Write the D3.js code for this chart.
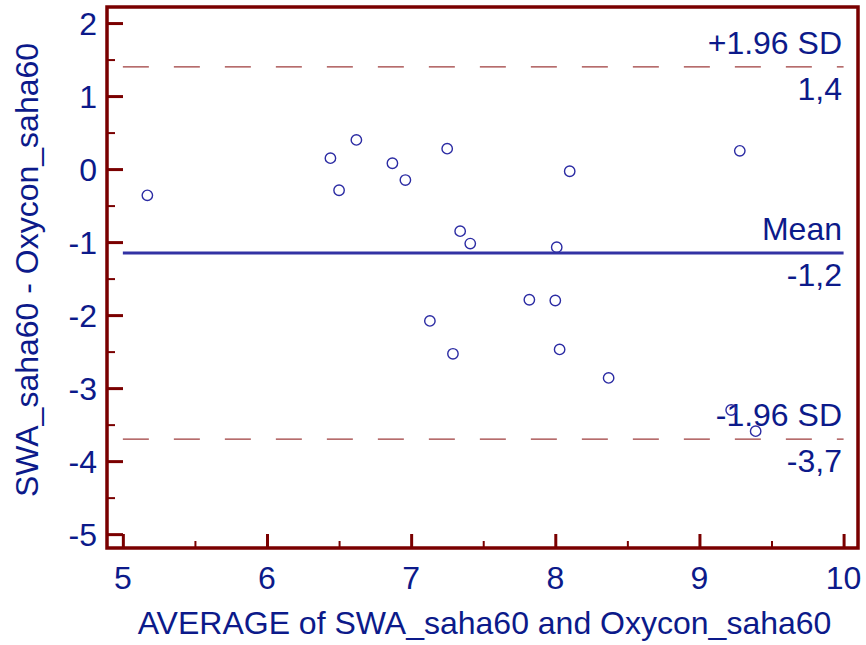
<!DOCTYPE html>
<html>
<head>
<meta charset="utf-8">
<script src="https://cdn.jsdelivr.net/npm/d3@7"></script>
<style>
  body { margin: 0; background: #fff; }
  text { font-family: "Liberation Sans", Arial, sans-serif; }
</style>
</head>
<body>
<div id="chart"></div>
<script>
(function blandAltman(){

  // data
  var avgValues  = [5.17, 6.44, 6.50, 6.62, 6.87, 6.96, 7.25, 7.34, 7.41, 7.13, 7.29, 7.82, 8.00, 8.01, 8.10, 8.03, 8.37, 9.28, 9.22, 9.39];
  var diffValues = [-0.36, 0.15, -0.29, 0.40, 0.08, -0.15, 0.28, -0.85, -1.02, -2.08, -2.53, -1.79, -1.80, -1.07, -0.03, -2.47, -2.86, 0.25, -3.30, -3.59];
  var refValues  = [1.40, -1.15, -3.70];            // +1.96 SD, mean, -1.96 SD
  var refNames   = ['+1.96 SD', 'Mean', '-1.96 SD'];
  var refLabels  = ['1,4', '-1,2', '-3,7'];
  var xTicks = [5, 6, 7, 8, 9, 10];
  var yTicks = [2, 1, 0, -1, -2, -3, -4, -5];

  var axisColor = '#7a0000',
      textColor = '#0c1a8a',
      markColor = '#2b2ba3';

  var W = 866, H = 645, fs = 32;
  var left = 107, right = 858, top = 7, bottom = 548;

  var x = d3.scaleLinear().domain([4.89, 10.1]).range([left, right]);
  var y = d3.scaleLinear().domain([-5.19, 2.22]).range([bottom, top]);

  var svg = d3.select('#chart').append('svg')
      .attr('width', W)
      .attr('height', H);

  // minor ticks at the half units
  var xMinor = d3.range(5.5, 10, 1);
  var yMinor = d3.range(-4.5, 2, 1);

  // axes with ticks pointing inward
  var yAxis = d3.axisRight(y).tickValues(yTicks).tickSize(16).tickFormat('');
  var yAxisMinor = d3.axisRight(y).tickValues(yMinor).tickSize(8).tickFormat('');
  var xAxis = d3.axisTop(x).tickValues(xTicks).tickSize(14).tickFormat('');
  var xAxisMinor = d3.axisTop(x).tickValues(xMinor).tickSize(7).tickFormat('');

  function drawAxis(axis, pos, width){
    var g = svg.append('g').attr('transform', pos).call(axis);
    g.selectAll('line').attr('stroke', axisColor).attr('stroke-width', width);
    g.select('.domain').remove();
  }
  drawAxis(yAxis, 'translate(' + left + ',0)', 3);
  drawAxis(yAxisMinor, 'translate(' + left + ',0)', 2);
  drawAxis(xAxis, 'translate(0,' + bottom + ')', 3);
  drawAxis(xAxisMinor, 'translate(0,' + bottom + ')', 2);

  // frame
  svg.append('path')
      .attr('d', 'M' + left + ',' + top + 'H' + right + 'V' + bottom + 'H' + left + 'Z')
      .attr('fill', 'none')
      .attr('stroke', axisColor)
      .attr('stroke-width', 3.5);

  // tick labels
  svg.selectAll('.ylab')
      .data(yTicks)
      .enter()
      .append('text')
      .attr('x', 97)
      .attr('y', function(d){ return y(d) + 11.5; })
      .attr('text-anchor', 'end')
      .attr('font-size', fs)
      .attr('fill', textColor)
      .text(function(d){ return d; });

  svg.selectAll('.xlab')
      .data(xTicks)
      .enter()
      .append('text')
      .attr('x', function(d){ return x(d); })
      .attr('y', 589)
      .attr('text-anchor', 'middle')
      .attr('font-size', fs)
      .attr('fill', textColor)
      .text(function(d){ return d; });

  // axis titles
  svg.append('text')
      .attr('x', (left + right) / 2 + 2)
      .attr('y', 634)
      .attr('text-anchor', 'middle')
      .attr('font-size', fs)
      .attr('fill', textColor)
      .text('AVERAGE of SWA_saha60 and Oxycon_saha60');

  svg.append('text')
      .attr('transform', 'translate(38,270) rotate(-90)')
      .attr('text-anchor', 'middle')
      .attr('font-size', fs)
      .attr('fill', textColor)
      .text('SWA_saha60 - Oxycon_saha60');

  // reference lines
  svg.selectAll('.ref')
      .data(refValues)
      .enter()
      .append('line')
      .attr('x1', x(5))
      .attr('x2', x(10))
      .attr('y1', function(d){ return y(d); })
      .attr('y2', function(d){ return y(d); })
      .attr('stroke', function(d, i){ return i === 1 ? '#3232a4' : '#9e3c3c'; })
      .attr('stroke-width', function(d, i){ return i === 1 ? 3 : 1.2; })
      .attr('stroke-dasharray', function(d, i){ return i === 1 ? null : '26,25'; });

  svg.selectAll('.refName')
      .data(refValues)
      .enter()
      .append('text')
      .attr('x', 842)
      .attr('y', function(d){ return y(d) - 13; })
      .attr('text-anchor', 'end')
      .attr('font-size', fs)
      .attr('fill', textColor)
      .text(function(d, i){ return refNames[i]; });

  svg.selectAll('.refVal')
      .data(refValues)
      .enter()
      .append('text')
      .attr('x', 842)
      .attr('y', function(d){ return y(d) + 33; })
      .attr('text-anchor', 'end')
      .attr('font-size', fs)
      .attr('fill', textColor)
      .text(function(d, i){ return refLabels[i]; });

  // points
  svg.selectAll('.pt')
      .data(avgValues)
      .enter()
      .append('circle')
      .attr('cx', function(d){ return x(d); })
      .attr('cy', function(d, i){ return y(diffValues[i]); })
      .attr('r', 5.2)
      .attr('fill', 'none')
      .attr('stroke', markColor)
      .attr('stroke-width', 1.4);

})();
</script>
</body>
</html>
